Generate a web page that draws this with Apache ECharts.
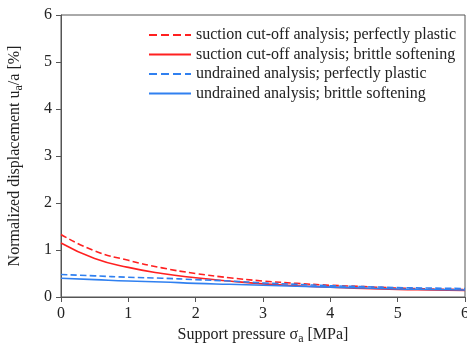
<!DOCTYPE html>
<html>
<head>
<meta charset="utf-8">
<script src="https://cdn.jsdelivr.net/npm/echarts@6/dist/echarts.min.js"></script>
<style>
  html, body { margin: 0; padding: 0; background: #fff; }
  #chart { width: 467px; height: 347px; }
</style>
</head>
<body>
<div id="chart"></div>
<script>
const pressure = [0, 0.5, 1, 1.5, 2, 2.5, 3, 3.5, 4, 4.5, 5, 5.5, 6];
const suctionPlastic = [1.33, 0.98, 0.78, 0.62, 0.5, 0.41, 0.34, 0.29, 0.25, 0.22, 0.19, 0.17, 0.16];
const suctionBrittle = [1.15, 0.82, 0.63, 0.5, 0.41, 0.34, 0.28, 0.24, 0.21, 0.18, 0.16, 0.15, 0.14];
const undrainedPlastic = [0.48, 0.45, 0.42, 0.4, 0.37, 0.34, 0.3, 0.27, 0.24, 0.22, 0.2, 0.19, 0.18];
const undrainedBrittle = [0.4, 0.37, 0.34, 0.32, 0.29, 0.27, 0.25, 0.23, 0.21, 0.19, 0.17, 0.16, 0.15];
const names = [
  "suction cut-off analysis; perfectly plastic",
  "suction cut-off analysis; brittle softening",
  "undrained analysis; perfectly plastic",
  "undrained analysis; brittle softening"
];

const pair = (ys) => pressure.map((x, i) => [x, ys[i]]);
const font = "'Liberation Serif', 'DejaVu Serif', serif";

const chart = echarts.init(document.getElementById("chart"), null, { renderer: "canvas" });
const line = (name, ys, color, type) => ({
  name: name,
  type: "line",
  data: pair(ys),
  smooth: true,
  symbol: "none",
  lineStyle: { color: color, width: 1.6, type: type },
  itemStyle: { color: color }
});

chart.setOption({
  animation: false,
  grid: {
    left: 61, right: 2, top: 15, bottom: 50,
    outerBoundsMode: "none",
    containLabel: false,
    show: true, borderColor: "#555", borderWidth: 1
  },
  legend: {
    orient: "vertical",
    left: 143,
    top: 22,
    itemWidth: 42,
    itemHeight: 14,
    itemGap: 3.5,
    itemStyle: { opacity: 0 },
    textStyle: { fontFamily: font, fontSize: 16, color: "#222" },
    data: names
  },
  xAxis: {
    type: "value",
    min: 0, max: 6, interval: 1,
    name: "Support pressure σ{s|a} [MPa]",
    nameLocation: "middle",
    nameGap: 27,
    nameTextStyle: {
      fontFamily: font, fontSize: 16, color: "#222",
      rich: { s: { fontFamily: font, fontSize: 12, padding: [8, 0, 0, 0] } }
    },
    axisLine: { lineStyle: { color: "#555" } },
    axisTick: { show: true, inside: false, length: 5, lineStyle: { color: "#555" } },
    axisLabel: { fontFamily: font, fontSize: 16, color: "#222", margin: 9 },
    splitLine: { show: false }
  },
  yAxis: {
    type: "value",
    min: 0, max: 6, interval: 1,
    name: "Normalized displacement u{s|a}/a [%]",
    nameLocation: "middle",
    nameRotate: 90,
    nameGap: 36,
    nameTextStyle: {
      fontFamily: font, fontSize: 16, color: "#222",
      rich: { s: { fontFamily: font, fontSize: 12, padding: [8, 0, 0, 0] } }
    },
    axisLine: { show: true, lineStyle: { color: "#555" } },
    axisTick: { show: true, inside: false, length: 5, lineStyle: { color: "#555" } },
    axisLabel: { fontFamily: font, fontSize: 16, color: "#222", margin: 9 },
    splitLine: { show: false }
  },
  series: [
    line(names[0], suctionPlastic, "#ff2020", "dashed"),
    line(names[1], suctionBrittle, "#ff2020", "solid"),
    line(names[2], undrainedPlastic, "#3080f0", "dashed"),
    line(names[3], undrainedBrittle, "#3080f0", "solid")
  ]
});
</script>
</body>
</html>
